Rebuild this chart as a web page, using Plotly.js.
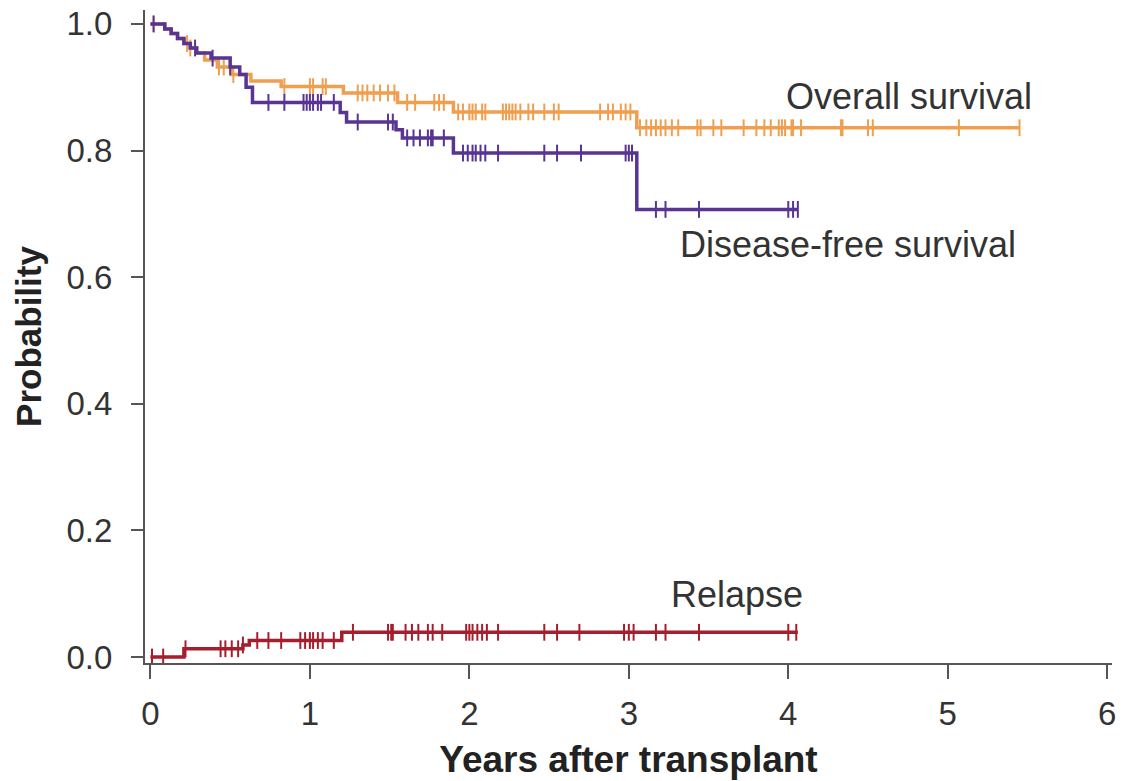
<!DOCTYPE html>
<html>
<head>
<meta charset="utf-8">
<script src="https://cdn.plot.ly/plotly-3.0.1.min.js"></script>
<style>
html,body{margin:0;padding:0;background:#fff;}
#chart{width:1123px;height:781px;}
</style>
</head>
<body>
<div id="chart"></div>
<script>
// Overall survival: step times and values
const osTimes  = [0, 0.09, 0.13, 0.17, 0.21, 0.25, 0.29, 0.34, 0.42, 0.51, 0.63, 0.82, 1.21, 1.55, 1.90, 3.05, 5.45];
const osValues = [1.0, 0.992, 0.985, 0.977, 0.969, 0.962, 0.954, 0.943, 0.932, 0.920, 0.910, 0.901, 0.891, 0.876, 0.861, 0.836, 0.836];
const osCensor = [0.02, 0.23, 0.25, 0.43, 0.46, 0.52, 0.84, 1.00, 1.02, 1.08, 1.10,
  1.30, 1.33, 1.36, 1.40, 1.44, 1.49, 1.53, 1.61, 1.66, 1.78, 1.81, 1.84,
  1.93, 1.96, 2.00, 2.02, 2.04, 2.08, 2.10, 2.21, 2.23, 2.25, 2.27, 2.29, 2.32, 2.37, 2.40, 2.47, 2.53, 2.56,
  2.82, 2.87, 2.90, 2.95, 2.98, 3.01,
  3.07, 3.11, 3.14, 3.17, 3.20, 3.23, 3.27, 3.31, 3.43, 3.45, 3.53, 3.58, 3.72, 3.80, 3.85, 3.89,
  3.94, 3.96, 3.98, 4.02, 4.03, 4.08, 4.33, 4.34, 4.50, 4.53, 5.07, 5.45];

// Disease-free survival
const dfsTimes  = [0, 0.09, 0.13, 0.17, 0.21, 0.25, 0.29, 0.38, 0.50, 0.56, 0.60, 0.64, 1.19, 1.23, 1.54, 1.58, 1.90, 3.05, 4.06];
const dfsValues = [1.0, 0.992, 0.985, 0.977, 0.969, 0.962, 0.954, 0.946, 0.932, 0.920, 0.900, 0.876, 0.860, 0.845, 0.833, 0.820, 0.796, 0.707, 0.707];
const dfsCensor = [0.02, 0.28, 0.39, 0.50, 0.74, 0.84, 0.96, 0.98, 1.00, 1.02, 1.05, 1.07, 1.15,
  1.30, 1.49, 1.52, 1.61, 1.65, 1.69, 1.74, 1.76, 1.77, 1.84,
  1.96, 1.99, 2.02, 2.04, 2.07, 2.10, 2.18, 2.47, 2.55, 2.70, 2.98, 3.00, 3.02,
  3.17, 3.23, 3.44, 4.00, 4.03, 4.06];

// Relapse (cumulative incidence)
const relTimes  = [0, 0.21, 0.58, 0.62, 1.20, 4.06];
const relValues = [0.0, 0.013, 0.019, 0.026, 0.039, 0.039];
const relCensor = [0.01, 0.08, 0.22, 0.44, 0.47, 0.51, 0.55, 0.58, 0.67, 0.74, 0.82,
  0.94, 0.97, 1.00, 1.02, 1.05, 1.08, 1.15, 1.27, 1.49, 1.51, 1.52, 1.60, 1.64, 1.68, 1.74, 1.77, 1.83,
  1.98, 2.00, 2.02, 2.05, 2.08, 2.11, 2.18, 2.47, 2.55, 2.69, 2.97, 3.00, 3.03, 3.17, 3.23, 3.44, 4.00, 4.05];

const xTickVals = [0, 1, 2, 3, 4, 5, 6];
const yTickVals = [0, 0.2, 0.4, 0.6, 0.8, 1.0];
const yTickText = ["0.0", "0.2", "0.4", "0.6", "0.8", "1.0"];

const labels = [
  {text: "Overall survival", x: 3.97, y: 0.885},
  {text: "Disease-free survival", x: 3.31, y: 0.651},
  {text: "Relapse", x: 3.25, y: 0.098}
];

const colOS = "#ef9f4f";
const colDFS = "#583493";
const colRel = "#a41f2e";

function stepAt(times, vals, t) {
  let v = vals[0];
  for (let i = 0; i < times.length; i++) { if (times[i] <= t) v = vals[i]; }
  return v;
}

function curve(times, vals, color) {
  return {x: times, y: vals, type: "scatter", mode: "lines",
    line: {shape: "hv", color: color, width: 3.5}, hoverinfo: "skip", showlegend: false};
}
function censor(cts, times, vals, color) {
  return {x: cts, y: cts.map(t => stepAt(times, vals, t)), type: "scatter", mode: "markers",
    marker: {symbol: "line-ns", size: 12, line: {color: color, width: 2}}, hoverinfo: "skip", showlegend: false};
}

const data = [
  curve(osTimes, osValues, colOS), censor(osCensor, osTimes, osValues, colOS),
  curve(dfsTimes, dfsValues, colDFS), censor(dfsCensor, dfsTimes, dfsValues, colDFS),
  curve(relTimes, relValues, colRel), censor(relCensor, relTimes, relValues, colRel)
];

const fontFam = "Liberation Sans, Arial, sans-serif";

const layout = {
  width: 1123, height: 781,
  margin: {l: 145, r: 11, t: 10, b: 118},
  paper_bgcolor: "#ffffff", plot_bgcolor: "#ffffff",
  font: {family: fontFam, color: "#333333"},
  xaxis: {
    range: [-0.034, 6.03], tickvals: xTickVals, ticks: "outside", ticklen: 14, tickwidth: 2, tickcolor: "#555",
    showline: true, linecolor: "#555", linewidth: 2, showgrid: false, zeroline: false,
    tickfont: {size: 33, color: "#333"}, ticklabelstandoff: 6,
    title: {text: "Years after transplant", font: {size: 37, color: "#222", family: fontFam, weight: "bold"}, standoff: 16}
  },
  yaxis: {
    range: [-0.0095, 1.022], tickvals: yTickVals, ticktext: yTickText, ticks: "outside", ticklen: 12, tickwidth: 2, tickcolor: "#555",
    showline: true, linecolor: "#555", linewidth: 2, showgrid: false, zeroline: false,
    tickfont: {size: 33, color: "#333"}, ticklabelstandoff: 12,
    title: {text: "Probability", font: {size: 35, color: "#222", family: fontFam, weight: "bold"}, standoff: 14}
  },
  annotations: labels.map(l => ({text: l.text, x: l.x, y: l.y, xref: "x", yref: "y",
    xanchor: "left", yanchor: "middle", showarrow: false, font: {size: 36, color: "#333", family: fontFam}}))
};

Plotly.newPlot("chart", data, layout, {displayModeBar: false, staticPlot: true});
</script>
</body>
</html>
